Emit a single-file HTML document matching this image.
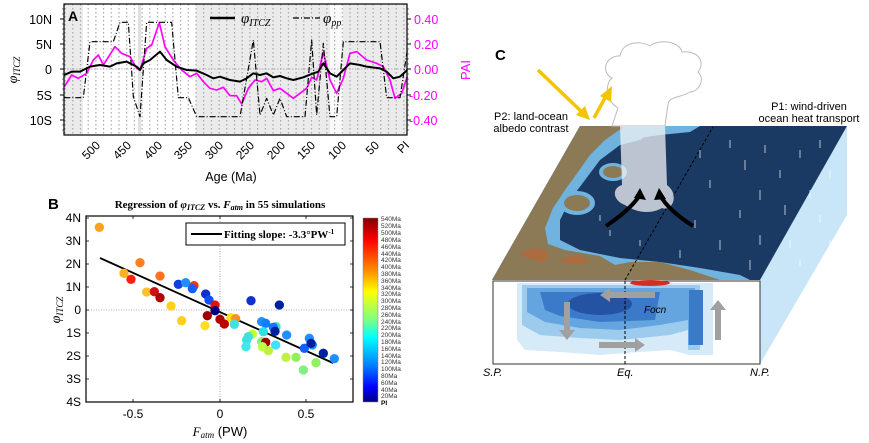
<!DOCTYPE html>
<html><head><meta charset="utf-8"><style>
html,body{margin:0;padding:0;background:#fff;}
svg{display:block;font-family:"Liberation Sans",sans-serif;}
</style></head><body>
<svg width="869" height="443" viewBox="0 0 869 443" xmlns="http://www.w3.org/2000/svg">
<defs>
<linearGradient id="jet" x1="0" y1="0" x2="0" y2="1">
<stop offset="0" stop-color="#800000"/><stop offset="0.12" stop-color="#ff0000"/><stop offset="0.3" stop-color="#ff9900"/><stop offset="0.4" stop-color="#ffff00"/><stop offset="0.55" stop-color="#80ff80"/><stop offset="0.65" stop-color="#00ffff"/><stop offset="0.8" stop-color="#0080ff"/><stop offset="0.92" stop-color="#0000ff"/><stop offset="1" stop-color="#000080"/>
</linearGradient>
<pattern id="dots" width="7.7" height="4" patternUnits="userSpaceOnUse"><rect x="3" y="0" width="1" height="1.5" fill="#999"/></pattern>
</defs>
<!-- Panel A -->
<rect x="64" y="4" width="343" height="131" fill="#ebebeb"/>
<rect x="83" y="4" width="113" height="131" fill="#fff"/>
<rect x="138" y="4" width="3" height="131" fill="#e0e0e0"/>
<rect x="330" y="4" width="13" height="131" fill="#fafafa"/>
<rect x="64" y="4" width="343" height="131" fill="url(#dots)"/>
<line x1="64" y1="69" x2="407" y2="69" stroke="#999" stroke-dasharray="1.5 1.5" stroke-width="0.8"/>
<g transform="scale(0.33333)" fill="none" stroke-linejoin="round">
<polyline stroke="#ff00ff" stroke-width="5" points="193,260 215,225 235,235 260,220 280,180 295,165 310,195 345,140 365,160 390,170 410,205 420,210 440,145 455,135 478,68 495,140 520,180 545,210 570,230 590,220 610,245 630,265 650,270 670,262 690,287 710,287 725,312 745,265 765,240 785,245 800,235 820,272 840,265 860,280 880,295 900,280 920,265 935,232 950,240 970,157 990,240 1010,280 1030,235 1050,160 1070,155 1100,180 1130,190 1150,200 1170,240 1185,295 1205,280 1222,230"/>
<polyline stroke="#000" stroke-width="3.5" stroke-dasharray="18 6 3 6" points="193,293 250,293 270,125 340,125 360,67 385,67 400,290 420,350 440,67 515,67 535,293 565,293 590,350 720,350 760,120 780,345 800,295 820,345 840,295 860,350 915,350 935,120 950,345 970,130 990,350 1010,350 1030,125 1140,125 1160,293 1200,293 1222,150"/>
<polyline stroke="#000" stroke-width="6" points="193,225 215,215 240,215 270,200 300,195 330,200 350,190 380,185 410,200 420,210 430,190 450,180 480,155 500,180 530,200 560,210 590,212 620,225 640,235 660,230 690,240 720,245 740,235 760,220 780,225 800,220 820,232 840,228 860,235 880,240 910,232 940,220 955,215 970,190 990,220 1010,230 1030,210 1050,190 1080,195 1100,200 1140,205 1160,215 1180,235 1200,230 1222,210"/>
</g>
<rect x="64" y="4" width="343" height="131" fill="none" stroke="#000" stroke-width="1.2"/>
<g stroke="#000" stroke-width="1">
<line x1="60" y1="19" x2="64" y2="19"/><line x1="60" y1="44" x2="64" y2="44"/><line x1="60" y1="69" x2="64" y2="69"/><line x1="60" y1="95" x2="64" y2="95"/><line x1="60" y1="120" x2="64" y2="120"/>
<line x1="407" y1="19" x2="411" y2="19"/><line x1="407" y1="44" x2="411" y2="44"/><line x1="407" y1="69" x2="411" y2="69"/><line x1="407" y1="95" x2="411" y2="95"/><line x1="407" y1="120" x2="411" y2="120"/>
</g>
<g stroke="#000" stroke-width="0.6">
<path d="M62 9h2M62 14h2M62 24h2M62 29h2M62 34h2M62 39h2M62 49h2M62 54h2M62 59h2M62 64h2M62 74h2M62 79h2M62 84h2M62 89h2M62 100h2M62 105h2M62 110h2M62 115h2M62 125h2M62 130h2"/>
<path d="M407 9h2M407 14h2M407 24h2M407 29h2M407 34h2M407 39h2M407 49h2M407 54h2M407 59h2M407 64h2M407 74h2M407 79h2M407 84h2M407 89h2M407 100h2M407 105h2M407 110h2M407 115h2M407 125h2M407 130h2"/>
</g>
<g font-size="12.5" text-anchor="end">
<text x="52" y="24">10N</text><text x="52" y="49">5N</text><text x="52" y="74">0</text><text x="52" y="100">5S</text><text x="52" y="125">10S</text>
</g>
<g font-size="12.5" fill="#ff00ff">
<text x="414" y="24">0.40</text><text x="414" y="49">0.20</text><text x="414" y="74">0.00</text><text x="409" y="100">-0.20</text><text x="409" y="125">-0.40</text>
</g>
<text x="470" y="70" font-size="13" fill="#ff00ff" transform="rotate(-90 470 70)" text-anchor="middle">PAI</text>
<text transform="translate(17 70) rotate(-90)" font-size="14" text-anchor="middle" font-family="Liberation Serif,serif" font-style="italic">φ<tspan font-size="9" dy="3">ITCZ</tspan></text>
<g font-size="12" text-anchor="end">
<text transform="translate(101 146) rotate(-45)">500</text>
<text transform="translate(132 146) rotate(-45)">450</text>
<text transform="translate(163 146) rotate(-45)">400</text>
<text transform="translate(193 146) rotate(-45)">350</text>
<text transform="translate(224 146) rotate(-45)">300</text>
<text transform="translate(255 146) rotate(-45)">250</text>
<text transform="translate(286 146) rotate(-45)">200</text>
<text transform="translate(316 146) rotate(-45)">150</text>
<text transform="translate(347 146) rotate(-45)">100</text>
<text transform="translate(380 146) rotate(-45)">50</text>
<text transform="translate(410 146) rotate(-45)">PI</text>
</g>
<text x="231" y="181" font-size="12.5" text-anchor="middle">Age (Ma)</text>
<text x="68" y="21" font-size="14" font-weight="bold">A</text>
<line x1="210" y1="18" x2="235" y2="18" stroke="#000" stroke-width="2.5"/>
<text x="241" y="23" font-size="15" font-family="Liberation Serif,serif" font-style="italic">φ<tspan font-size="10" dy="3">ITCZ</tspan></text>
<line x1="293" y1="18" x2="320" y2="18" stroke="#000" stroke-width="1.2" stroke-dasharray="6 2 1 2"/>
<text x="323" y="23" font-size="15" font-family="Liberation Serif,serif" font-style="italic">φ<tspan font-size="10" dy="3">pp</tspan></text>

<!-- Panel B -->
<text x="48" y="209" font-size="15" font-weight="bold">B</text>
<text x="220" y="208" font-size="11" font-weight="bold" text-anchor="middle" font-family="Liberation Serif,serif">Regression of <tspan font-style="italic">φ<tspan font-size="8" dy="2">ITCZ</tspan></tspan><tspan dy="-2"> vs. </tspan><tspan font-style="italic">F<tspan font-size="8" dy="2">atm</tspan></tspan><tspan dy="-2">  in 55 simulations</tspan></text>
<rect x="86" y="216" width="267" height="186" fill="#fff"/>
<line x1="86" y1="310" x2="353" y2="310" stroke="#999" stroke-dasharray="1 1.5" stroke-width="0.8"/>
<line x1="220" y1="216" x2="220" y2="402" stroke="#999" stroke-dasharray="1 1.5" stroke-width="0.8"/>
<line x1="100" y1="258" x2="333" y2="363" stroke="#000" stroke-width="1.8"/>
<g transform="translate(0 190) scale(0.33333)">
<circle cx="298" cy="112" r="14" fill="#ffa020"/><circle cx="420" cy="218" r="14" fill="#ff8020"/><circle cx="372" cy="250" r="14" fill="#ffb020"/><circle cx="393" cy="268" r="14" fill="#ff2010"/><circle cx="480" cy="258" r="14" fill="#ff7020"/><circle cx="440" cy="306" r="14" fill="#ffc030"/><circle cx="463" cy="305" r="14" fill="#d01010"/><circle cx="480" cy="323" r="14" fill="#b00000"/><circle cx="513" cy="348" r="14" fill="#ffd020"/><circle cx="545" cy="392" r="14" fill="#ffd020"/><circle cx="535" cy="283" r="14" fill="#1040e0"/><circle cx="557" cy="278" r="14" fill="#1e90ff"/><circle cx="582" cy="287" r="14" fill="#ff3010"/><circle cx="577" cy="296" r="14" fill="#1060ff"/><circle cx="617" cy="312" r="14" fill="#1030d0"/><circle cx="627" cy="330" r="14" fill="#1050f0"/><circle cx="645" cy="345" r="14" fill="#e01010"/><circle cx="645" cy="362" r="14" fill="#000080"/><circle cx="622" cy="377" r="14" fill="#a00000"/><circle cx="615" cy="407" r="14" fill="#ffe020"/><circle cx="660" cy="388" r="14" fill="#b00000"/><circle cx="673" cy="402" r="14" fill="#c00000"/><circle cx="693" cy="383" r="14" fill="#ffe010"/><circle cx="707" cy="386" r="14" fill="#ff9020"/><circle cx="703" cy="403" r="14" fill="#40e0e0"/><circle cx="753" cy="332" r="14" fill="#1030d0"/><circle cx="838" cy="345" r="14" fill="#0020a0"/><circle cx="785" cy="395" r="14" fill="#1e90ff"/><circle cx="797" cy="400" r="14" fill="#1080ff"/><circle cx="828" cy="410" r="14" fill="#40e0c0"/><circle cx="820" cy="412" r="14" fill="#1e70ff"/><circle cx="825" cy="424" r="14" fill="#0020a0"/><circle cx="860" cy="435" r="14" fill="#1e90ff"/><circle cx="757" cy="432" r="14" fill="#c0ff30"/><circle cx="790" cy="425" r="14" fill="#30e0e0"/><circle cx="745" cy="440" r="14" fill="#40e0e0"/><circle cx="740" cy="450" r="14" fill="#40e0e0"/><circle cx="738" cy="470" r="14" fill="#40e8e8"/><circle cx="785" cy="455" r="14" fill="#80f080"/><circle cx="797" cy="457" r="14" fill="#a00000"/><circle cx="787" cy="470" r="14" fill="#c0ff40"/><circle cx="805" cy="482" r="14" fill="#c0f040"/><circle cx="827" cy="465" r="14" fill="#40e0ff"/><circle cx="858" cy="502" r="14" fill="#c0f040"/><circle cx="888" cy="502" r="14" fill="#90f060"/><circle cx="910" cy="540" r="14" fill="#80f080"/><circle cx="948" cy="518" r="14" fill="#90f060"/><circle cx="913" cy="475" r="14" fill="#1060ff"/><circle cx="928" cy="445" r="14" fill="#1e90ff"/><circle cx="937" cy="465" r="14" fill="#1e90ff"/><circle cx="933" cy="460" r="14" fill="#0020a0"/><circle cx="970" cy="490" r="14" fill="#0020a0"/><circle cx="1003" cy="506" r="14" fill="#1e90ff"/>
</g>
<rect x="186" y="223" width="159" height="22" fill="#fff" stroke="#000" stroke-width="1"/>
<line x1="191" y1="234" x2="222" y2="234" stroke="#000" stroke-width="2"/>
<text x="224" y="238" font-size="11" font-weight="bold" font-family="Liberation Serif,serif">Fitting slope: -3.3°PW<tspan font-size="7" dy="-4">-1</tspan></text>
<rect x="86" y="216" width="267" height="186" fill="none" stroke="#000" stroke-width="1.2"/>
<g stroke="#000" stroke-width="0.8">
<path d="M86 218h3M86 241h3M86 264h3M86 287h3M86 310h3M86 333h3M86 356h3M86 379h3M353 218h-3M353 241h-3M353 264h-3M353 287h-3M353 310h-3M353 333h-3M353 356h-3M353 379h-3"/>
<path d="M133 402v-3M220 402v-3M306 402v-3M133 216v3M220 216v3M306 216v3"/>
</g>
<g font-size="12" text-anchor="end">
<text x="81" y="222">4N</text><text x="81" y="245">3N</text><text x="81" y="268">2N</text><text x="81" y="291">1N</text><text x="81" y="314">0</text><text x="81" y="337">1S</text><text x="81" y="360">2S</text><text x="81" y="383">3S</text><text x="81" y="406">4S</text>
</g>
<g font-size="12" text-anchor="middle">
<text x="133" y="418">-0.5</text><text x="220" y="418">0</text><text x="306" y="418">0.5</text>
</g>
<text x="220" y="436" font-size="13" text-anchor="middle"><tspan font-family="Liberation Serif,serif" font-style="italic">F<tspan font-size="9" dy="2">atm</tspan></tspan><tspan dy="-2">  (PW)</tspan></text>
<text transform="translate(60 310) rotate(-90)" font-size="14" text-anchor="middle" font-family="Liberation Serif,serif" font-style="italic">φ<tspan font-size="9" dy="3">ITCZ</tspan></text>
<rect x="363" y="218" width="15" height="184" fill="url(#jet)" stroke="#888" stroke-width="0.5"/>
<g font-size="6.5" fill="#333">
<text x="381" y="221">540Ma</text><text x="381" y="228">520Ma</text><text x="381" y="235">500Ma</text><text x="381" y="242">480Ma</text><text x="381" y="249">460Ma</text><text x="381" y="256">440Ma</text><text x="381" y="262">420Ma</text><text x="381" y="269">400Ma</text><text x="381" y="276">380Ma</text><text x="381" y="283">360Ma</text><text x="381" y="290">340Ma</text><text x="381" y="296">320Ma</text><text x="381" y="303">300Ma</text><text x="381" y="310">280Ma</text><text x="381" y="317">260Ma</text><text x="381" y="324">240Ma</text><text x="381" y="330">220Ma</text><text x="381" y="337">200Ma</text><text x="381" y="344">180Ma</text><text x="381" y="351">160Ma</text><text x="381" y="358">140Ma</text><text x="381" y="364">120Ma</text><text x="381" y="371">100Ma</text><text x="381" y="378">80Ma</text><text x="381" y="385">60Ma</text><text x="381" y="392">40Ma</text><text x="381" y="398">20Ma</text><text x="381" y="405" font-weight="bold" fill="#000">PI</text>
</g>

<!-- Panel C -->
<text x="495" y="60" font-size="15" font-weight="bold">C</text>
<polygon points="760,280 847,126 847,215 760,364" fill="#c8e6f8"/>
<polygon points="580,126 847,126 760,280 492,280" fill="#1b3a63"/>
<polygon points="580,126 660,126 640,140 620,145 600,160 585,180 570,200 560,220 560,240 580,250 620,258 660,262 700,268 740,275 750,280 492,280" fill="#6fb3de"/>
<polygon points="580,126 625,126 605,140 590,155 578,172 565,190 553,208 545,228 548,244 565,250 600,256 615,265 630,262 660,262 690,270 720,280 492,280" fill="#8b7a55"/>
<polygon points="625,126 700,126 690,132 660,135 640,138" fill="#6fb3de"/>
<ellipse cx="613" cy="172" rx="14" ry="9" fill="#6fb3de"/>
<ellipse cx="613" cy="172" rx="10" ry="6" fill="#8b7a55"/>
<ellipse cx="577" cy="203" rx="18" ry="12" fill="#6fb3de"/>
<ellipse cx="577" cy="203" rx="13" ry="8" fill="#8b7a55"/>
<path d="M520 255 q10 -10 25 -5 q8 8 -5 12z M560 260 q15 -8 30 0 q-10 8 -30 0z" fill="#b5693a" opacity="0.8"/>
<g stroke="#fff" stroke-width="0.8" opacity="0.85">
<path d="M730 140v8M745 160v10M765 145v8M780 170v8M800 150v8M820 140v8M760 190v10M785 205v10M740 210v8M810 190v8M830 170v8M720 240v10M760 235v10M790 240v8M710 180v8M695 220v8M750 260v10M680 250v8M640 240v6M610 230v6M600 215v6M700 150v8M820 215v8M800 260v6M830 240v6"/>
</g>
<line x1="625" y1="280" x2="713" y2="127" stroke="#000" stroke-width="1" stroke-dasharray="3 2"/>
<path d="M612 126 L618 108 C605 100 605 84 612 78 C600 72 606 55 620 56 C622 42 640 40 650 46 C660 38 680 42 682 52 C698 50 706 62 698 72 C706 80 698 92 690 92 C680 98 670 96 668 104 L665 126 Z" fill="#fff" stroke="#bbb" stroke-width="1"/>
<path d="M620 126 L665 126 L667 185 C680 195 672 212 662 208 C650 215 635 212 625 205 C612 200 612 188 622 185 Z" fill="#f2f3f4" opacity="0.75"/>
<path d="M606 226 Q630 210 640 195" stroke="#000" stroke-width="4" fill="none"/>
<polygon points="640,188 646,200 634,198" fill="#000"/>
<path d="M693 226 Q668 210 660 195" stroke="#000" stroke-width="4" fill="none"/>
<polygon points="659,188 666,199 654,200" fill="#000"/>
<line x1="538" y1="70" x2="585" y2="115" stroke="#f5c400" stroke-width="3.5"/>
<polygon points="590,120 576,115 585,106" fill="#f5c400"/>
<line x1="594" y1="118" x2="606" y2="96" stroke="#f5c400" stroke-width="3.5"/>
<polygon points="612,86 611,102 600,96" fill="#f5c400"/>
<text x="531" y="120" font-size="11" text-anchor="middle">P2: land-ocean</text>
<text x="531" y="132" font-size="11" text-anchor="middle">albedo contrast</text>
<text x="809" y="110" font-size="11" text-anchor="middle">P1: wind-driven</text>
<text x="809" y="122" font-size="11" text-anchor="middle">ocean heat transport</text>
<rect x="493" y="281" width="267" height="83" fill="#fff" stroke="#333" stroke-width="1"/>
<path d="M517 283 H713 V355 H690 L670 350 L640 352 L600 355 L560 352 L525 350 L517 340 Z" fill="#d6eaf8"/>
<path d="M522 285 H700 V350 H688 V330 L670 335 L620 340 L580 338 L540 335 L522 325 Z" fill="#9ccbee"/>
<path d="M527 288 H695 V345 H688 V320 L660 325 L620 330 L580 328 L545 322 L527 312 Z" fill="#64a5df"/>
<path d="M540 292 H660 L655 320 L600 322 L560 316 L545 310 Z" fill="#3a7ac9"/>
<ellipse cx="600" cy="304" rx="32" ry="11" fill="#2553a3"/>
<rect x="689" y="290" width="14" height="55" fill="#3a7ac9"/>
<ellipse cx="650" cy="283" rx="20" ry="3" fill="#d03020"/>
<line x1="625" y1="281" x2="625" y2="364" stroke="#000" stroke-width="1" stroke-dasharray="3 2"/>
<g fill="#a0a0a0">
<polygon points="655,292 610,292 610,288 600,295 610,302 610,298 655,298"/>
<polygon points="564,302 570,302 570,330 575,330 567,340 559,330 564,330"/>
<polygon points="599,342 635,342 635,338 645,345 635,352 635,348 599,348"/>
<polygon points="715,340 721,340 721,310 726,310 718,300 710,310 715,310"/>
</g>
<text x="644" y="313" font-size="10" font-style="italic">Focn</text>
<text x="483" y="376" font-size="11" font-style="italic">S.P.</text>
<text x="617" y="376" font-size="11" font-style="italic">Eq.</text>
<text x="750" y="376" font-size="11" font-style="italic">N.P.</text>
</svg>
</body></html>
